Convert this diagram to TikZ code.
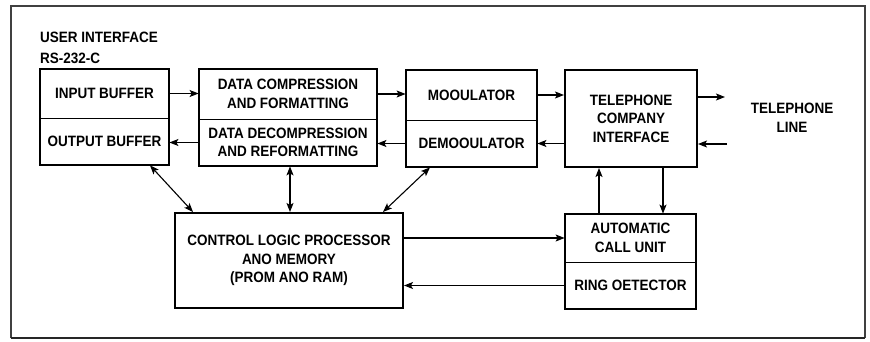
\documentclass[tikz,border=0pt]{standalone}
\usepackage{fontspec}
\setmainfont{Liberation Sans}[FakeStretch=0.9]
\usetikzlibrary{arrows.meta}
\begin{document}
\begin{tikzpicture}[x=1pt,y=-1pt,
  every node/.style={font=\fontsize{15}{18.5}\selectfont\bfseries, text=black, align=center, inner sep=0pt},
  half/.style={draw, line width=0.8pt, minimum width=#1, anchor=center},
  outer/.style={draw, line width=2pt},
  arr/.style={line width=1.1pt, -{Stealth[length=9pt,width=7pt,inset=2pt]}},
  darr/.style={line width=1.1pt, {Stealth[length=9pt,width=7pt,inset=2pt]}-{Stealth[length=9pt,width=7pt,inset=2pt]}},
  frame/.style={draw=black!75, line width=1.2pt}]
\useasboundingbox (0,0) rectangle (870,342);
% outer frame
\draw[frame] (11,338) -- (11,6) -- (865,6) -- (865,338);
\draw[line width=2.5pt, black!85] (11,338) -- (865,338);

% labels
\node[anchor=west] (ui) at (40,37) {USER INTERFACE};
\node[anchor=west] (rs) at (40,58) {RS-232-C};

% box 1
\node[half=129pt, minimum height=49pt] (ib) at (104.5,93.5) {INPUT BUFFER};
\node[half=129pt, minimum height=47pt] (ob) at (104.5,141.5) {OUTPUT BUFFER};
\draw[outer] (ib.north west) rectangle (ob.south east);

% box 2
\node[half=178pt, minimum height=50pt] (dc) at (288,94) {DATA COMPRESSION\\AND FORMATTING};
\node[half=178pt, minimum height=47pt] (dd) at (288,142.5) {DATA DECOMPRESSION\\AND REFORMATTING};
\draw[outer] (dc.north west) rectangle (dd.south east);

% box 3
\node[half=131pt, minimum height=50pt] (mod) at (471.5,95) {MOOULATOR};
\node[half=131pt, minimum height=47pt] (dem) at (471.5,143.5) {DEMOOULATOR};
\draw[outer] (mod.north west) rectangle (dem.south east);

% telephone company interface
\node[outer, minimum width=132pt, minimum height=97pt] (tci) at (631,118.5) {TELEPHONE\\COMPANY\\INTERFACE};

% telephone line
\node (tl) at (792,118) {TELEPHONE\\LINE};
\coordinate (tlo) at (725,97);
\coordinate (tli) at (727,144);

% ACU / ring detector
\node[half=131pt, minimum height=48pt] (acu) at (630.5,238) {AUTOMATIC\\CALL UNIT};
\node[half=131pt, minimum height=47pt] (rd) at (630.5,285.5) {RING OETECTOR};
\draw[outer] (acu.north west) rectangle (rd.south east);

% control logic
\node[outer, minimum width=228pt, minimum height=95pt] (cl) at (289,260.5) {CONTROL LOGIC PROCESSOR\\ANO MEMORY\\(PROM ANO RAM)};

% horizontal arrows
\draw[arr] (ib.east) -- (ib.east -| dc.west);
\draw[arr] (dd.west) -- (dd.west -| ob.east);
\draw[arr] (dc.east) -- (dc.east -| mod.west);
\draw[arr] (dem.west) -- (dem.west -| dd.east);
\draw[arr] (mod.east) -- (mod.east -| tci.west);
\draw[arr] (tci.west |- dem.east) -- (dem.east);
\draw[arr] (tci.east |- tlo) -- (tlo);
\draw[arr] (tli) -- (tli -| tci.east);

% vertical arrows TCI/ACU
\draw[arr] (acu.north -| 599,0) -- (tci.south -| 599,0);
\draw[arr] (tci.south -| 663,0) -- (acu.north -| 663,0);

% CL <-> ACU / RD
\draw[arr] (cl.east |- acu.west) -- (acu.west);
\draw[arr] (rd.west) -- (rd.west -| cl.east);

% diagonal / vertical double arrows
\draw[darr] (ob.south -| 150,0) -- (cl.north -| 193,0);
\draw[darr] (dd.south -| 290,0) -- (cl.north -| 290,0);
\draw[darr] (dem.south -| 430,0) -- (cl.north -| 383,0);
\end{tikzpicture}
\end{document}
